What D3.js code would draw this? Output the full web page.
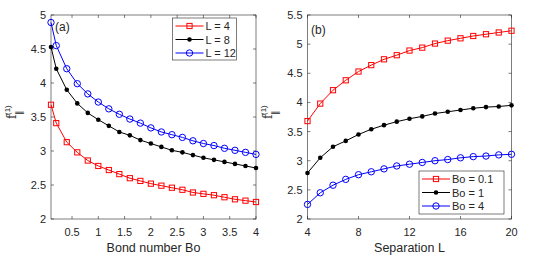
<!DOCTYPE html>
<html>
<head>
<meta charset="utf-8">
<script src="https://cdn.jsdelivr.net/npm/d3@7"></script>
<style>
  body { margin: 0; background: #fff; }
  text { font-family: "Liberation Sans", Arial, sans-serif; fill: #262626; }
</style>
</head>
<body>
<div id="chart"></div>
<script>
// panel (a): f vs Bond number
var bondNumbers = [0.1, 0.2, 0.4, 0.6, 0.8, 1.0, 1.2, 1.4, 1.6, 1.8, 2.0, 2.2, 2.4, 2.6, 2.8, 3.0, 3.2, 3.4, 3.6, 3.8, 4.0]
var fL4 = [3.68, 3.41, 3.13, 2.98, 2.86, 2.78, 2.72, 2.66, 2.60, 2.56, 2.52, 2.49, 2.46, 2.43, 2.39, 2.37, 2.35, 2.32, 2.29, 2.27, 2.25]
var fL8 = [4.53, 4.21, 3.90, 3.70, 3.56, 3.46, 3.37, 3.28, 3.23, 3.16, 3.11, 3.06, 3.01, 2.98, 2.94, 2.90, 2.87, 2.84, 2.81, 2.78, 2.75]
var fL12 = [4.89, 4.55, 4.21, 3.99, 3.84, 3.72, 3.62, 3.54, 3.47, 3.41, 3.34, 3.28, 3.24, 3.20, 3.15, 3.11, 3.08, 3.04, 3.01, 2.98, 2.95]
var legendA = ["L = 4", "L = 8", "L = 12"]
var xTicksA = [0.5, 1, 1.5, 2, 2.5, 3, 3.5, 4]
var yTicksA = [2, 2.5, 3, 3.5, 4, 4.5, 5]

// panel (b): f vs separation
var separations = [4, 5, 6, 7, 8, 9, 10, 11, 12, 13, 14, 15, 16, 17, 18, 19, 20]
var fBo01 = [3.68, 3.98, 4.21, 4.38, 4.53, 4.64, 4.74, 4.81, 4.89, 4.94, 5.01, 5.06, 5.10, 5.14, 5.17, 5.20, 5.23]
var fBo1 = [2.79, 3.05, 3.24, 3.34, 3.45, 3.54, 3.61, 3.67, 3.72, 3.76, 3.81, 3.84, 3.87, 3.90, 3.92, 3.93, 3.95]
var fBo4 = [2.25, 2.45, 2.58, 2.68, 2.76, 2.81, 2.86, 2.91, 2.94, 2.97, 3.00, 3.02, 3.05, 3.07, 3.08, 3.10, 3.11]
var legendB = ["Bo = 0.1", "Bo = 1", "Bo = 4"]
var xTicksB = [4, 8, 12, 16, 20]
var yTicksB = [2, 2.5, 3, 3.5, 4, 4.5, 5, 5.5]

var styles = [
    { color: "#ff0000", marker: "square" },
    { color: "#000000", marker: "dot" },
    { color: "#0000ff", marker: "circle" }
]

var svg = d3.select("#chart")
    .append("svg")
    .attr("width", 542)
    .attr("height", 271)

var axisColor = "#262626"

function drawMarker(g, type, color, x, y) {
    if (type == "square") {
        g.append("rect")
            .attr("x", x - 2.6).attr("y", y - 2.6)
            .attr("width", 5.2).attr("height", 5.2)
            .attr("fill", "none").attr("stroke", color).attr("stroke-width", 1)
    } else if (type == "dot") {
        g.append("circle")
            .attr("cx", x).attr("cy", y).attr("r", 2.3)
            .attr("fill", color)
    } else {
        g.append("circle")
            .attr("cx", x).attr("cy", y).attr("r", 3.2)
            .attr("fill", "none").attr("stroke", color).attr("stroke-width", 1)
    }
}

function drawPanel(p) {
    var x = d3.scaleLinear().domain(p.xDomain).range([p.left, p.right])
    var y = d3.scaleLinear().domain(p.yDomain).range([p.bottom, p.top])
    var g = svg.append("g")

    // box
    g.append("rect")
        .attr("x", p.left).attr("y", p.top)
        .attr("width", p.right - p.left).attr("height", p.bottom - p.top)
        .attr("fill", "#fff").attr("stroke", axisColor).attr("stroke-width", 0.6)

    var tickLen = 3
    p.xTicks.forEach(function(t) {
        g.append("line").attr("x1", x(t)).attr("x2", x(t))
            .attr("y1", p.bottom).attr("y2", p.bottom - tickLen)
            .attr("stroke", axisColor).attr("stroke-width", 0.6)
        g.append("line").attr("x1", x(t)).attr("x2", x(t))
            .attr("y1", p.top).attr("y2", p.top + tickLen)
            .attr("stroke", axisColor).attr("stroke-width", 0.6)
        g.append("text").attr("x", x(t)).attr("y", p.bottom + 17)
            .attr("text-anchor", "middle").style("font-size", "11px")
            .text(t)
    })
    p.yTicks.forEach(function(t) {
        g.append("line").attr("x1", p.left).attr("x2", p.left + tickLen)
            .attr("y1", y(t)).attr("y2", y(t))
            .attr("stroke", axisColor).attr("stroke-width", 0.6)
        g.append("line").attr("x1", p.right).attr("x2", p.right - tickLen)
            .attr("y1", y(t)).attr("y2", y(t))
            .attr("stroke", axisColor).attr("stroke-width", 0.6)
        g.append("text").attr("x", p.left - 5).attr("y", y(t) + 4)
            .attr("text-anchor", "end").style("font-size", "11px")
            .text(t)
    })

    // x label
    g.append("text")
        .attr("x", (p.left + p.right) / 2).attr("y", 252)
        .attr("text-anchor", "middle").style("font-size", "12.5px")
        .text(p.xLabel)

    // y label f_||^(1), rotated
    var yl = g.append("g")
        .attr("transform", "translate(" + p.yLabelX + ",119) rotate(-90)")
    yl.append("text").attr("x", 0).attr("y", 0)
        .style("font-size", "12px").style("font-family", "'DejaVu Serif', serif")
        .text("f")
    yl.append("text").attr("x", 4).attr("y", -6)
        .style("font-size", "8px")
        .text("(1)")
    yl.append("text").attr("x", 4).attr("y", 6)
        .style("font-size", "9px")
        .text("\u2225")

    // panel tag
    g.append("text").attr("x", p.tagX).attr("y", p.tagY)
        .style("font-size", "12px").text(p.tag)

    var line = d3.line()
        .x(function(d) { return x(d[0]) })
        .y(function(d) { return y(d[1]) })

    p.series.forEach(function(s, i) {
        var pts = p.xs.map(function(v, j) { return [v, s[j]] })
        g.append("path")
            .attr("d", line(pts))
            .attr("fill", "none")
            .attr("stroke", styles[i].color)
            .attr("stroke-width", 1)
        pts.forEach(function(d) {
            drawMarker(g, styles[i].marker, styles[i].color, x(d[0]), y(d[1]))
        })
    })

    // legend
    var lg = p.legend
    g.append("rect")
        .attr("x", lg.x).attr("y", lg.y)
        .attr("width", lg.w).attr("height", lg.h)
        .attr("fill", "#fff").attr("stroke", axisColor).attr("stroke-width", 0.6)
    p.legendLabels.forEach(function(name, i) {
        var ry = lg.y + 8 + i * 13.5
        g.append("line")
            .attr("x1", lg.x + 3).attr("x2", lg.x + 31)
            .attr("y1", ry).attr("y2", ry)
            .attr("stroke", styles[i].color).attr("stroke-width", 1)
        drawMarker(g, styles[i].marker, styles[i].color, lg.x + 17, ry)
        g.append("text").attr("x", lg.x + 33).attr("y", ry + 4)
            .style("font-size", "11px").text(name)
    })
}

drawPanel({
    left: 51, right: 256, top: 15, bottom: 219,
    xDomain: [0.1, 4], yDomain: [2, 5],
    xTicks: xTicksA, yTicks: yTicksA,
    xs: bondNumbers, series: [fL4, fL8, fL12],
    xLabel: "Bond number Bo", yLabelX: 16,
    tag: "(a)", tagX: 55, tagY: 31,
    legend: { x: 172.5, y: 18, w: 64, h: 42 },
    legendLabels: legendA
})

drawPanel({
    left: 307.5, right: 511.5, top: 15, bottom: 219,
    xDomain: [4, 20], yDomain: [2, 5.5],
    xTicks: xTicksB, yTicks: yTicksB,
    xs: separations, series: [fBo01, fBo1, fBo4],
    xLabel: "Separation L", yLabelX: 272,
    tag: "(b)", tagX: 311, tagY: 34,
    legend: { x: 419, y: 171, w: 85, h: 43 },
    legendLabels: legendB
})
</script>
</body>
</html>
